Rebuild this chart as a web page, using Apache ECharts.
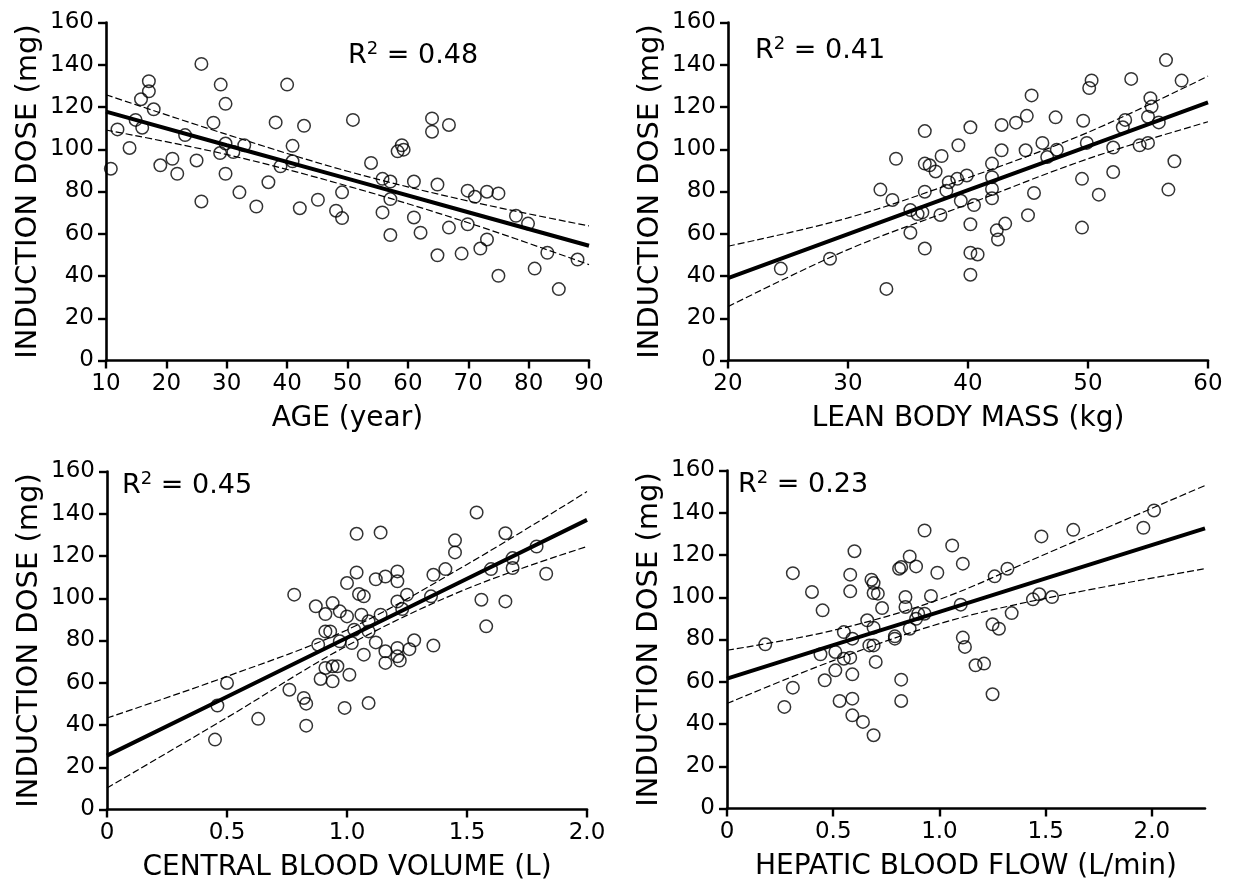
<!DOCTYPE html>
<html>
<head>
<meta charset="utf-8">
<script src="https://cdn.jsdelivr.net/npm/echarts@6/dist/echarts.min.js"></script>
<style>
html,body{margin:0;padding:0;background:#fff;}
#chart{width:1240px;height:887px;}
</style>
</head>
<body>
<div id="chart"></div>
<script>
// ---------- DATA ----------
const yTickLabels = [0, 20, 40, 60, 80, 100, 120, 140, 160];
const yAxisName = 'INDUCTION DOSE (mg)';

// Panel 1: age
const ageName = 'AGE (year)';
const ageR2 = '0.48';
const agePoints = [[10.8,90.8],[11.9,109.4],[13.9,100.6],[14.9,113.9],[16.0,110.2],[15.8,123.7],[17.1,132.2],[17.1,127.4],[17.9,118.9],[19.0,92.4],[21.0,95.5],[21.8,88.4],[23.1,106.7],[25.0,94.7],[25.8,140.4],[25.8,75.3],[27.8,112.6],[29.0,130.6],[29.8,121.5],[28.9,98.2],[29.8,102.7],[31.1,98.7],[29.8,88.4],[32.1,79.6],[32.9,101.9],[34.9,72.9],[36.9,84.4],[38.1,112.7],[38.9,91.9],[40.0,130.6],[40.9,101.6],[40.9,94.3],[42.1,72.1],[42.8,111.1],[45.1,76.1],[48.1,70.9],[49.1,67.4],[49.1,79.6],[50.9,113.9],[53.9,93.5],[55.8,86.0],[57.1,84.7],[57.1,76.4],[55.8,70.1],[57.1,59.4],[58.3,99.0],[59.0,101.9],[59.3,99.8],[61.0,84.7],[61.0,67.7],[62.1,60.5],[64.0,114.6],[64.0,108.3],[66.8,111.5],[64.9,83.3],[64.9,49.8],[66.8,62.9],[68.9,50.6],[69.9,80.4],[69.9,64.5],[71.1,77.5],[72.0,53.0],[73.1,57.3],[73.1,79.9],[75.0,79.1],[75.0,40.1],[77.9,68.5],[79.9,64.8],[81.0,43.5],[83.1,51.0],[85.0,33.8],[88.1,47.8]];
const ageBandX = [10, 30, 50, 70, 90];
const ageFit = [117.8, 101.9, 86.1, 70.2, 54.3];
const ageUpper = [125.8, 107.0, 89.6, 75.5, 63.7];
const ageLower = [109.1, 97.5, 82.6, 65.2, 45.4];

// Panel 2: lean body mass
const lbmName = 'LEAN BODY MASS (kg)';
const lbmR2 = '0.41';
const lbmPoints = [[24.4,43.5],[28.5,48.2],[33.2,33.9],[32.7,80.9],[34.0,95.5],[33.7,76.0],[36.4,108.6],[35.2,71.2],[35.2,60.5],[35.8,69.3],[36.2,70.1],[36.4,53.0],[36.4,79.9],[36.4,93.2],[36.8,92.4],[37.3,89.5],[37.7,68.9],[37.8,96.8],[38.2,80.4],[38.4,84.4],[39.1,86.0],[39.2,101.9],[39.4,75.6],[39.9,87.6],[40.2,110.4],[40.2,64.5],[40.2,51.0],[40.8,50.2],[40.2,40.6],[40.5,73.6],[42.0,93.2],[42.0,86.8],[42.0,81.2],[42.0,76.8],[42.8,111.5],[42.8,99.5],[42.4,61.6],[42.5,57.3],[43.1,64.8],[44.0,112.6],[44.9,115.8],[45.3,125.5],[44.8,99.5],[45.5,79.3],[45.0,68.8],[46.2,103.0],[46.6,96.3],[47.4,99.8],[47.3,115.1],[49.6,113.5],[49.5,86.0],[49.5,62.9],[49.9,103.0],[50.9,78.5],[50.1,129.0],[50.3,132.6],[52.1,100.8],[52.1,89.2],[52.9,110.4],[53.1,113.9],[53.6,133.3],[54.3,101.9],[55.0,103.0],[55.0,115.4],[55.2,124.2],[55.3,120.2],[55.9,112.7],[56.5,142.2],[57.2,94.3],[56.7,80.9],[57.8,132.5]];
const lbmBandX = [20, 30, 40, 50, 60];
const lbmFit = [39.0, 59.8, 80.6, 101.4, 122.2];
const lbmUpper = [54.1, 67.5, 86.5, 108.0, 134.6];
const lbmLower = [25.5, 52.5, 74.0, 95.5, 113.0];

// Panel 3: central blood volume
const cbvName = 'CENTRAL BLOOD VOLUME (L)';
const cbvR2 = '0.45';
const cbvPoints = [[0.45,33.1],[0.46,49.2],[0.50,59.9],[0.63,42.9],[0.76,56.7],[0.78,101.7],[0.82,52.8],[0.83,50.1],[0.83,39.7],[0.87,96.2],[0.89,61.8],[0.88,78.0],[0.91,92.5],[0.94,97.7],[0.94,60.7],[0.91,84.3],[0.93,84.3],[0.91,67.0],[0.94,67.8],[0.96,67.8],[0.97,93.8],[0.97,79.6],[1.00,107.2],[1.00,91.4],[1.01,63.8],[0.99,48.1],[1.04,130.5],[1.14,131.1],[1.09,50.4],[1.04,112.2],[1.05,102.0],[1.07,100.9],[1.06,92.2],[1.09,89.1],[1.03,85.1],[1.09,84.3],[1.02,78.8],[1.12,79.1],[1.07,73.3],[1.12,109.0],[1.16,110.3],[1.21,112.7],[1.21,108.0],[1.14,92.2],[1.21,98.5],[1.23,94.9],[1.25,101.7],[1.16,74.9],[1.16,69.4],[1.21,76.5],[1.21,72.5],[1.22,70.5],[1.26,75.9],[1.28,80.1],[1.36,77.6],[1.35,100.9],[1.36,111.1],[1.41,113.8],[1.45,127.4],[1.45,121.7],[1.54,140.6],[1.56,99.3],[1.58,86.7],[1.60,113.8],[1.66,130.8],[1.66,98.5],[1.69,119.0],[1.69,114.3],[1.79,124.5],[1.83,111.6]];
const cbvBandX = [0, 0.5, 1.0, 1.5, 2.0];
const cbvFit = [25.5, 53.4, 81.3, 109.2, 137.1];
const cbvUpper = [43.3, 63.0, 85.0, 116.0, 150.5];
const cbvLower = [10.2, 43.5, 77.5, 104.5, 124.5];

// Panel 4: hepatic blood flow
const hbfName = 'HEPATIC BLOOD FLOW (L/min)';
const hbfR2 = '0.23';
const hbfPoints = [[0.18,77.7],[0.31,111.4],[0.40,102.5],[0.45,93.8],[0.44,73.0],[0.31,57.2],[0.27,48.1],[0.46,60.7],[0.51,74.1],[0.51,65.4],[0.53,50.9],[0.55,83.5],[0.55,70.9],[0.58,71.4],[0.59,80.4],[0.59,63.5],[0.59,52.0],[0.59,44.1],[0.58,110.7],[0.58,102.8],[0.60,121.8],[0.64,41.0],[0.69,34.7],[0.66,89.1],[0.67,77.2],[0.69,77.2],[0.69,85.6],[0.70,69.4],[0.68,108.3],[0.69,106.7],[0.69,102.0],[0.71,101.7],[0.73,94.9],[0.79,80.4],[0.79,81.5],[0.81,113.5],[0.82,114.3],[0.86,119.3],[0.89,114.6],[0.84,100.1],[0.84,95.4],[0.82,61.0],[0.82,50.9],[0.86,85.1],[0.89,89.8],[0.90,92.2],[0.93,92.2],[0.93,131.6],[0.96,100.6],[0.99,111.6],[1.06,124.5],[1.11,115.9],[1.10,96.5],[1.11,80.9],[1.12,76.5],[1.17,67.8],[1.21,68.6],[1.25,54.1],[1.25,87.2],[1.28,85.1],[1.26,109.9],[1.32,113.5],[1.34,92.5],[1.44,99.0],[1.47,101.4],[1.53,100.1],[1.48,128.8],[1.63,131.9],[1.96,132.9],[2.01,141.1]];
const hbfBandX = [0, 0.5, 1.0, 1.5, 2.25];
const hbfFit = [61.5, 77.3, 93.1, 108.9, 132.6];
const hbfUpper = [74.9, 84.3, 99.0, 120.5, 152.9];
const hbfLower = [49.7, 70.0, 87.5, 99.5, 113.5];
const hbfTicks = [0, 0.5, 1.0, 1.5, 2.0];

// ---------- CHART ----------
const FONT = 'DejaVu Sans';
const zip = (xs, ys) => xs.map((x, i) => [x, ys[i]]);

const grids = [
  {left: 106, top: 22.5, width: 483, height: 338},
  {left: 728, top: 22.5, width: 480, height: 338},
  {left: 107, top: 471.5, width: 480, height: 338},
  {left: 727, top: 470.5, width: 478, height: 338}
];

function xAxis(i, min, max, interval, name, fmt, custom) {
  const ax = {
    type: 'value', gridIndex: i, min: min, max: max, interval: interval,
    name: name, nameLocation: 'middle', nameGap: 44,
    nameTextStyle: {fontFamily: FONT, fontSize: 28, color: '#000'},
    axisLine: {show: true, onZero: false, lineStyle: {color: '#000', width: 2.6}},
    axisTick: {show: true, inside: false, length: 8, lineStyle: {color: '#000', width: 2.4}},
    axisLabel: {fontFamily: FONT, fontSize: 23, color: '#000', margin: 12, formatter: fmt},
    splitLine: {show: false}
  };
  if (custom) {
    ax.axisTick.customValues = custom;
    ax.axisLabel.customValues = custom;
  }
  return ax;
}
function yAxis(i) {
  return {
    type: 'value', gridIndex: i, min: 0, max: 160, interval: 20,
    name: yAxisName, nameLocation: 'middle', nameGap: 63,
    nameTextStyle: {fontFamily: FONT, fontSize: 29, color: '#000'},
    axisLine: {show: true, onZero: false, lineStyle: {color: '#000', width: 2.6}},
    axisTick: {show: true, inside: false, length: 8, lineStyle: {color: '#000', width: 2.4}},
    axisLabel: {fontFamily: FONT, fontSize: 23, color: '#000', margin: 12},
    splitLine: {show: false}
  };
}
const fmtInt = v => String(v);
const fmtDec = v => (v === 0 ? '0' : v.toFixed(1));

function panelSeries(i, points, bx, fit, up, lo) {
  return [
    {type: 'scatter', xAxisIndex: i, yAxisIndex: i, data: points, symbol: 'circle', symbolSize: 12.5,
     itemStyle: {color: 'rgba(0,0,0,0)', borderColor: '#000', borderWidth: 1.5}, silent: true, z: 3},
    {type: 'line', xAxisIndex: i, yAxisIndex: i, data: zip(bx, fit), showSymbol: false, symbol: 'none',
     lineStyle: {color: '#000', width: 4}, silent: true, z: 2},
    {type: 'line', xAxisIndex: i, yAxisIndex: i, data: zip(bx, up), showSymbol: false, symbol: 'none', smooth: 0.35,
     lineStyle: {color: '#000', width: 1.2, type: [7, 3]}, silent: true, z: 2},
    {type: 'line', xAxisIndex: i, yAxisIndex: i, data: zip(bx, lo), showSymbol: false, symbol: 'none', smooth: 0.35,
     lineStyle: {color: '#000', width: 1.2, type: [7, 3]}, silent: true, z: 2}
  ];
}

function r2Text(left, top, val) {
  return {
    type: 'text', left: left, top: top, silent: true,
    style: {
      text: '{a|R}{s|2}{a| = ' + val + '}',
      rich: {
        a: {fontFamily: FONT, fontSize: 27, lineHeight: 32, fill: '#000', color: '#000'},
        s: {fontFamily: FONT, fontSize: 18, lineHeight: 18, verticalAlign: 'top', fill: '#000', color: '#000'}
      }
    }
  };
}

const chart = echarts.init(document.getElementById('chart'), null, {renderer: 'canvas'});
chart.setOption({
  animation: false,
  backgroundColor: '#fff',
  grid: grids,
  xAxis: [
    xAxis(0, 10, 90, 10, ageName, fmtInt),
    xAxis(1, 20, 60, 10, lbmName, fmtInt),
    xAxis(2, 0, 2.0, 0.5, cbvName, fmtDec),
    xAxis(3, 0, 2.25, 0.5, hbfName, fmtDec, hbfTicks)
  ],
  yAxis: [yAxis(0), yAxis(1), yAxis(2), yAxis(3)],
  series: [].concat(
    panelSeries(0, agePoints, ageBandX, ageFit, ageUpper, ageLower),
    panelSeries(1, lbmPoints, lbmBandX, lbmFit, lbmUpper, lbmLower),
    panelSeries(2, cbvPoints, cbvBandX, cbvFit, cbvUpper, cbvLower),
    panelSeries(3, hbfPoints, hbfBandX, hbfFit, hbfUpper, hbfLower)
  ),
  graphic: [
    r2Text(348, 40, ageR2),
    r2Text(755, 35, lbmR2),
    r2Text(122, 470, cbvR2),
    r2Text(738, 469, hbfR2)
  ]
});
</script>
</body>
</html>
